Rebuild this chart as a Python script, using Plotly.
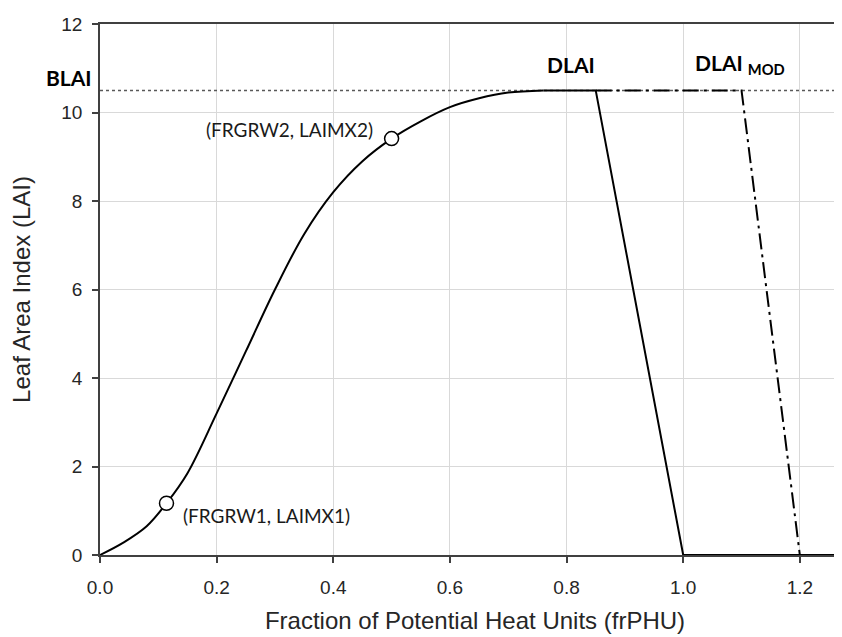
import plotly.graph_objects as go

# ── Data ──────────────────────────────────────────────────────────────────────
# rising part of the LAI curve
grow_x = [0, 0.04, 0.08, 0.114, 0.15, 0.20, 0.25, 0.30, 0.35, 0.40,
          0.45, 0.50, 0.55, 0.60, 0.65, 0.70, 0.76]
grow_y = [0, 0.28, 0.65, 1.17, 1.85, 3.2, 4.6, 6.0, 7.25, 8.2,
          8.9, 9.41, 9.8, 10.12, 10.32, 10.45, 10.5]

# plateau + senescence (DLAI)
decl_x = [0.76, 0.85, 1.0, 1.286]
decl_y = [10.5, 10.5, 0, 0]

# modified senescence (DLAI_MOD)
mod_x = [0.85, 1.10, 1.2]
mod_y = [10.5, 10.5, 0]

# BLAI level
blai_x = [0, 1.286]
blai_y = [10.5, 10.5]

# shape points
pts_x = [0.114, 0.5]
pts_y = [1.17, 9.41]
pts_lbl = ["(FRGRW1, LAIMX1)", "(FRGRW2, LAIMX2)"]

x_ticks = [0, 0.2, 0.4, 0.6, 0.8, 1.0, 1.2]
y_ticks = [0, 2, 4, 6, 8, 10, 12]

BLACK = "#000000"
AXIS = "#404040"
GRID = "#d9d9d9"
LABEL_FONT = "Lato, Carlito, sans-serif"

fig = go.Figure()

fig.add_scatter(x=blai_x, y=blai_y, mode="lines",
                line=dict(color="#595959", width=1.5, dash="dot"),
                showlegend=False, hoverinfo="skip")
fig.add_scatter(x=mod_x, y=mod_y, mode="lines",
                line=dict(color=BLACK, width=2, dash="16px,5px,3px,5px"),
                showlegend=False)
fig.add_scatter(x=grow_x, y=grow_y, mode="lines",
                line=dict(color=BLACK, width=2, shape="spline", smoothing=1),
                showlegend=False)
fig.add_scatter(x=decl_x, y=decl_y, mode="lines",
                line=dict(color=BLACK, width=2),
                showlegend=False)
fig.add_scatter(x=pts_x, y=pts_y, mode="markers",
                marker=dict(size=14, color="white", line=dict(color=BLACK, width=1.5)),
                showlegend=False)

# point labels
fig.add_annotation(x=0.139, y=0.90, text=pts_lbl[0], showarrow=False,
                   xanchor="left", yanchor="middle",
                   font=dict(family=LABEL_FONT, size=19, color="#1a1a1a"))
fig.add_annotation(x=0.472, y=9.62, text=pts_lbl[1], showarrow=False,
                   xanchor="right", yanchor="middle",
                   font=dict(family=LABEL_FONT, size=19, color="#1a1a1a"))

# bold region labels
fig.add_annotation(x=-0.041, xref="paper", y=10.79, text="<b>BLAI</b>",
                   showarrow=False, xanchor="center", yanchor="middle",
                   font=dict(family=LABEL_FONT, size=21, color=BLACK))
fig.add_annotation(x=0.807, y=11.09, text="<b>DLAI</b>",
                   showarrow=False, xanchor="center", yanchor="middle",
                   font=dict(family=LABEL_FONT, size=21, color=BLACK))
fig.add_annotation(x=1.017, y=11.09, text="<b>DLAI <sub>MOD</sub></b>",
                   showarrow=False, xanchor="left", yanchor="middle",
                   font=dict(family=LABEL_FONT, size=21, color=BLACK))

fig.update_layout(
    width=842, height=637,
    margin=dict(l=92, r=0, t=16, b=90),
    paper_bgcolor="white", plot_bgcolor="white",
    font=dict(family="Liberation Sans, Arial, sans-serif", size=19, color="#262626"),
)
fig.update_xaxes(
    range=[0, 1.286], tickvals=x_ticks, tickformat=".1f",
    ticks="outside", ticklen=6, tickcolor=AXIS, tickwidth=1.5,
    showline=True, linecolor=AXIS, linewidth=1.5, mirror=True,
    showgrid=True, gridcolor=GRID, gridwidth=1, zeroline=False,
    ticklabelstandoff=8, automargin=False,
    title=dict(text="Fraction of Potential Heat Units (frPHU)",
               font=dict(size=24, color="#262626"), standoff=16),
)
fig.update_yaxes(
    range=[0, 12], tickvals=y_ticks,
    ticks="outside", ticklen=6, tickcolor=AXIS, tickwidth=1.5,
    showline=True, linecolor=AXIS, linewidth=1.5,
    showgrid=True, gridcolor=GRID, gridwidth=1, zeroline=False,
    ticklabelstandoff=6, automargin=False,
    title=dict(text="Leaf Area Index (LAI)",
               font=dict(size=24, color="#262626"), standoff=24),
)

fig.write_html("out.html")
